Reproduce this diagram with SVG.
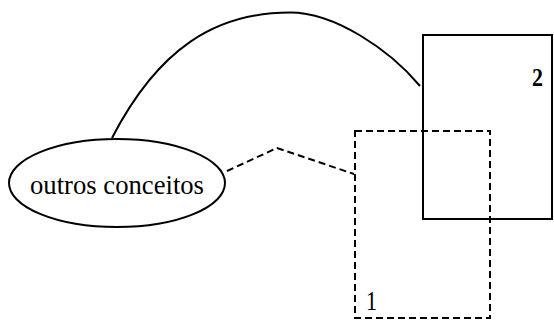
<svg xmlns="http://www.w3.org/2000/svg" width="554" height="322" viewBox="0 0 554 322">
<style>
.solid{fill:none;stroke:#000;stroke-width:2}
.dash{fill:none;stroke:#000;stroke-width:2;stroke-dasharray:7 4}
.lbl{font-family:"Liberation Serif","Times New Roman",serif;fill:#000}
</style>
<rect width="554" height="322" fill="#fff"/>
<g id="connectors">
<path class="solid" d="M112,138 C158,49 215,12.5 290,12.5 C335,12.5 390,50 420,86"/>
<path class="dash" d="M227,171 L277,148 L354,174"/>
</g>
<g id="node-outros">
<ellipse class="solid" cx="117" cy="183" rx="108" ry="44"/>
<text class="lbl" x="117" y="194" font-size="28" text-anchor="middle" textLength="174" lengthAdjust="spacingAndGlyphs">outros conceitos</text>
</g>
<g id="node-2">
<rect class="solid" x="423" y="35" width="129" height="184"/>
<text class="lbl" x="532" y="86" font-size="25" font-weight="bold" textLength="11" lengthAdjust="spacingAndGlyphs">2</text>
</g>
<g id="node-1">
<rect class="dash" x="355" y="131" width="135" height="187"/>
<text class="lbl" x="366" y="310" font-size="27" textLength="11" lengthAdjust="spacingAndGlyphs">1</text>
</g>
</svg>
